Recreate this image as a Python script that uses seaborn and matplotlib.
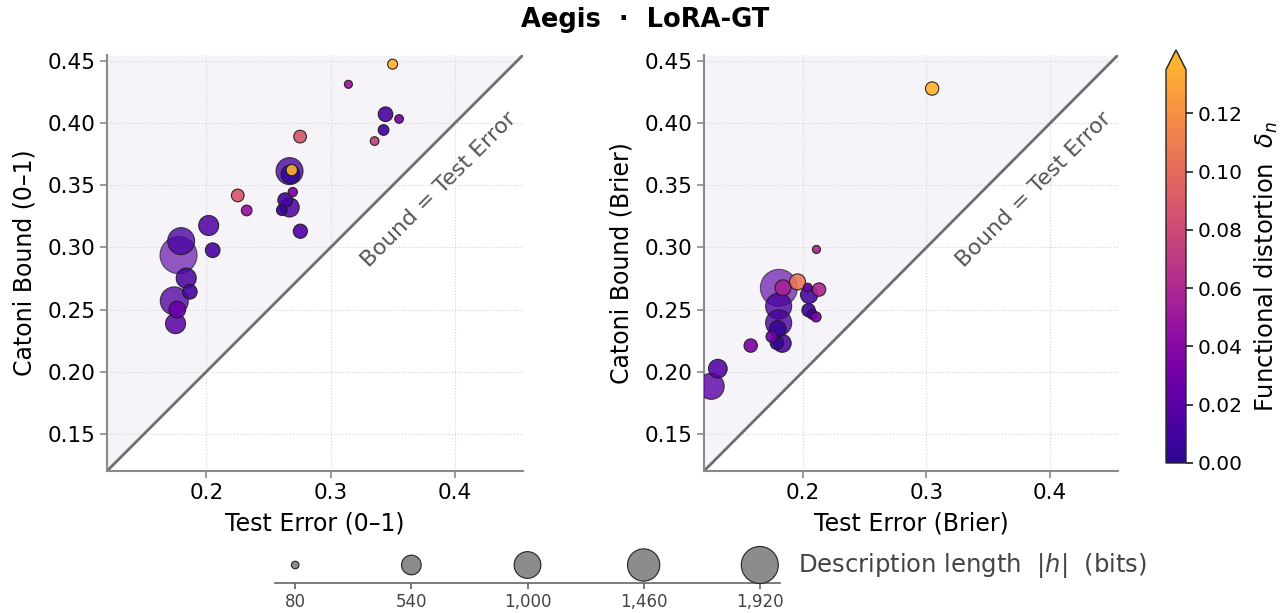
import numpy as np
import pandas as pd
import matplotlib
matplotlib.use("Agg")
import matplotlib.pyplot as plt
import matplotlib.colors as mcolors
import seaborn as sns

# ---------------- data ----------------
# Left panel: 0-1 loss
test_01 = [0.350, 0.3144, 0.3443, 0.3552, 0.3427, 0.3355, 0.2755, 0.2670, 0.2677, 0.2688,
           0.2696, 0.2635, 0.2670, 0.2608, 0.2757, 0.2253, 0.2325, 0.2019, 0.2051, 0.1797,
           0.1776, 0.1838, 0.1867, 0.1742, 0.1766, 0.1752]
bound_01 = [0.4476, 0.4314, 0.4073, 0.4035, 0.3946, 0.3857, 0.3893, 0.3615, 0.3589, 0.3623,
            0.3446, 0.3381, 0.3323, 0.3301, 0.3131, 0.3419, 0.3298, 0.3177, 0.2978, 0.3051,
            0.2938, 0.2753, 0.2643, 0.2570, 0.2500, 0.2387]
bits_01 = [140, 90, 300, 106, 160, 106, 226, 1020, 490, 180,
           120, 300, 520, 160, 280, 226, 160, 560, 300, 1020,
           1920, 560, 300, 1100, 390, 560]
delta_01 = [0.150, 0.053, 0.012, 0.035, 0.012, 0.074, 0.088, 0.012, 0.003, 0.150,
            0.035, 0.010, 0.015, 0.006, 0.015, 0.088, 0.047, 0.015, 0.012, 0.012,
            0.020, 0.012, 0.012, 0.015, 0.026, 0.021]

# Right panel: Brier loss
test_br = [0.3046, 0.2110, 0.1806, 0.1957, 0.1839, 0.2040, 0.2051, 0.2131, 0.1804, 0.2046,
           0.2075, 0.2107, 0.1804, 0.1796, 0.1833, 0.1790, 0.1748, 0.1578, 0.1312, 0.1258]
bound_br = [0.4280, 0.2984, 0.2675, 0.2723, 0.2675, 0.2677, 0.2619, 0.2661, 0.2527, 0.2495,
            0.2462, 0.2441, 0.2393, 0.2344, 0.2228, 0.2231, 0.2282, 0.2210, 0.2024, 0.1882]
bits_br = [250, 90, 1920, 360, 360, 106, 420, 250, 950, 250,
           140, 140, 950, 390, 450, 250, 180, 250, 490, 950]
delta_br = [0.150, 0.060, 0.020, 0.107, 0.055, 0.030, 0.012, 0.060, 0.012, 0.010,
            0.010, 0.035, 0.012, 0.004, 0.012, 0.004, 0.030, 0.035, 0.015, 0.020]

legend_bits = [80, 540, 1000, 1460, 1920]
legend_labels = ["80", "540", "1,000", "1,460", "1,920"]
cbar_ticks = [0.00, 0.02, 0.04, 0.06, 0.08, 0.10, 0.12]

# ---------------- style ----------------
sns.set_theme(style="ticks")
plt.rcParams['font.family'] = ['DejaVu Sans']
plt.rcParams['mathtext.fontset'] = 'dejavusans'
plt.rcParams['text.color'] = 'black'
plt.rcParams['axes.labelcolor'] = 'black'

W, H = 1286, 613
fig = plt.figure(figsize=(W / 100, H / 100), dpi=100)

ax1 = fig.add_axes([107 / W, 142 / H, 416 / W, 416 / H])
ax2 = fig.add_axes([704 / W, 142 / H, 414 / W, 416 / H])
cax = fig.add_axes([1166 / W, 150 / H, 20 / W, 413 / H])
lax = fig.add_axes([275 / W, 30 / H, 505 / W, 50 / H])

base = plt.get_cmap('plasma')
cmap = mcolors.ListedColormap(base(np.linspace(0.05, 0.82, 256)))
cmap.set_over(base(0.83))
norm = mcolors.Normalize(0.0, 0.135)

SIZES = (0, 740)
SIZE_NORM = (0, 2000)
LO, HI = 0.12, 0.455


def panel(ax, x, y, bits, delta, xlabel, ylabel):
    df = pd.DataFrame(dict(x=x, y=y, bits=bits, delta=delta))
    df = df.sort_values('bits', ascending=False, kind='stable')
    ax.fill_between([LO, HI], [LO, HI], [HI, HI], color='#f6f4f8', lw=0, zorder=0)
    ax.plot([LO, HI], [LO, HI], color='#6e6e6e', lw=2, zorder=1)
    sns.scatterplot(data=df, x='x', y='y', hue='delta', size='bits', palette=cmap,
                    hue_norm=norm, sizes=SIZES, size_norm=SIZE_NORM,
                    edgecolor='#1a1a1a', linewidth=0.8, legend=False, ax=ax, zorder=3)
    coll = ax.collections[-1]
    coll.set_alpha(0.95 - 0.3 * df['bits'].to_numpy() / 1920)
    ax.set_xlim(LO, HI)
    ax.set_ylim(LO, HI)
    ax.set_xticks([0.2, 0.3, 0.4])
    ax.set_yticks([0.15, 0.20, 0.25, 0.30, 0.35, 0.40, 0.45])
    ax.set_xticklabels(['0.2', '0.3', '0.4'])
    ax.set_yticklabels(['0.15', '0.20', '0.25', '0.30', '0.35', '0.40', '0.45'])
    ax.grid(True, ls=':', color='#d4d4d4', lw=0.8)
    ax.set_axisbelow(True)
    for s in ['top', 'right']:
        ax.spines[s].set_visible(False)
    for s in ['left', 'bottom']:
        ax.spines[s].set_color('#8a8a8a')
        ax.spines[s].set_linewidth(1.5)
    ax.tick_params(axis='both', colors='#8a8a8a', labelcolor='black', labelsize=15.5,
                   length=5, width=1.2)
    ax.set_xlabel(xlabel, fontsize=17, labelpad=6.5)
    ax.set_ylabel(ylabel, fontsize=17, labelpad=8)
    ax.text(0.387, 0.347, 'Bound = Test Error', rotation=45, ha='center', va='center',
            rotation_mode='anchor', color='#555555', fontsize=16, zorder=2)


panel(ax1, test_01, bound_01, bits_01, delta_01, 'Test Error (0–1)', 'Catoni Bound (0–1)')
panel(ax2, test_br, bound_br, bits_br, delta_br, 'Test Error (Brier)', 'Catoni Bound (Brier)')

# colorbar
sm = plt.cm.ScalarMappable(norm=norm, cmap=cmap)
cb = fig.colorbar(sm, cax=cax, extend='max')
cb.set_ticks(cbar_ticks)
cb.set_ticklabels([f'{t:.2f}' for t in cbar_ticks])
cb.ax.tick_params(labelsize=14.5, length=5, labelcolor='black')
cb.set_label('Functional distortion  $\\delta_n$', fontsize=17.5, labelpad=7)
cb.outline.set_linewidth(1.0)

# size legend
sns.scatterplot(x=legend_bits, y=[0.36] * len(legend_bits), size=legend_bits,
                sizes=SIZES, size_norm=SIZE_NORM, color='#8c8c8c', edgecolor='#222222',
                linewidth=0.8, legend=False, ax=lax, zorder=3, clip_on=False)
lax.set_xlim(0, 2000)
lax.set_ylim(0, 1)
lax.patch.set_visible(False)
lax.set_xticks(legend_bits)
lax.set_xticklabels(legend_labels)
lax.set_yticks([])
lax.set_xlabel('')
lax.set_ylabel('')
for s in ['top', 'right', 'left']:
    lax.spines[s].set_visible(False)
lax.spines['bottom'].set_color('#666666')
lax.spines['bottom'].set_linewidth(1.2)
lax.tick_params(axis='x', colors='#666666', labelcolor='#444444', labelsize=12,
                length=4, pad=3)
lax.text(1.036, 0.34, 'Description length  $|h|$  (bits)', transform=lax.transAxes,
         ha='left', va='center', fontsize=17.5, color='#444444')

fig.text(0.502, 0.967, 'Aegis  ·  LoRA-GT', ha='center', va='center', fontsize=18.5,
         fontweight='bold', color='black')

fig.savefig('out.png', dpi=100)
